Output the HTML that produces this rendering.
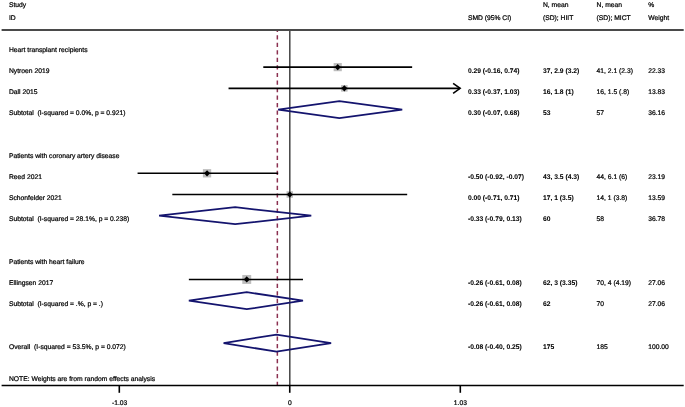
<!DOCTYPE html>
<html><head><meta charset="utf-8"><style>
html,body{margin:0;padding:0;background:#fff;}
svg{display:block;will-change:transform;}
text.b{font-weight:bold;stroke-width:0.05px;}
text{text-rendering:geometricPrecision;white-space:pre;font-family:"Liberation Sans",sans-serif;font-size:6.74px;fill:#000;stroke:#000;stroke-width:0.22px;}
</style></head><body>
<svg width="685" height="407" viewBox="0 0 685 407">
<rect width="685" height="407" fill="#fff"/>
<rect x="333.64" y="63.05" width="8.16" height="8.16" fill="#bdbdbd"/>
<rect x="341.07" y="85.10" width="6.52" height="6.52" fill="#bdbdbd"/>
<rect x="202.90" y="169.13" width="8.30" height="8.30" fill="#bdbdbd"/>
<rect x="286.51" y="191.27" width="6.47" height="6.47" fill="#bdbdbd"/>
<rect x="242.28" y="274.97" width="8.93" height="8.93" fill="#bdbdbd"/>
<line x1="289.80" y1="31" x2="289.80" y2="385.5" stroke="#444" stroke-width="1.5"/>
<line x1="277.35" y1="30" x2="277.35" y2="385.5" stroke="#8b3050" stroke-width="1.5" stroke-dasharray="4.2 3.33" stroke-dashoffset="2.28"/>
<line x1="1.6" y1="30" x2="683.7" y2="30" stroke="#4a4a4a" stroke-width="2"/>
<line x1="1.6" y1="385.5" x2="683.7" y2="385.5" stroke="#000" stroke-width="1.5"/>
<line x1="119.3" y1="385.5" x2="119.3" y2="392.8" stroke="#000" stroke-width="1.6"/>
<line x1="289.75" y1="385.5" x2="289.75" y2="392.8" stroke="#000" stroke-width="1.6"/>
<line x1="460.3" y1="385.5" x2="460.3" y2="392.8" stroke="#000" stroke-width="1.6"/>
<line x1="263.29" y1="67.13" x2="412.15" y2="67.13" stroke="#000" stroke-width="1.6"/>
<polygon points="337.72,64.03 340.72,67.13 337.72,70.23 334.72,67.13" fill="#000"/>
<line x1="228.55" y1="88.36" x2="460.11" y2="88.36" stroke="#000" stroke-width="1.6"/>
<polyline points="453.11,83.36 460.11,88.36 453.11,93.36" fill="none" stroke="#000" stroke-width="1.6"/>
<polygon points="344.33,85.26 347.33,88.36 344.33,91.46 341.33,88.36" fill="#000"/>
<line x1="137.58" y1="173.28" x2="278.17" y2="173.28" stroke="#000" stroke-width="1.6"/>
<polygon points="207.05,170.18 210.05,173.28 207.05,176.38 204.05,173.28" fill="#000"/>
<line x1="172.32" y1="194.51" x2="407.18" y2="194.51" stroke="#000" stroke-width="1.6"/>
<polygon points="289.75,191.41 292.75,194.51 289.75,197.61 286.75,194.51" fill="#000"/>
<line x1="188.86" y1="279.43" x2="302.98" y2="279.43" stroke="#000" stroke-width="1.6"/>
<polygon points="246.75,276.33 249.75,279.43 246.75,282.53 243.75,279.43" fill="#000"/>
<polygon points="278.17,109.59 339.37,101.09 402.22,109.59 339.37,118.09" fill="none" stroke="#14146e" stroke-width="1.75" stroke-linejoin="miter"/>
<polygon points="159.08,215.74 235.17,207.24 311.25,215.74 235.17,224.24" fill="none" stroke="#14146e" stroke-width="1.75" stroke-linejoin="miter"/>
<polygon points="188.86,300.66 246.75,292.16 302.98,300.66 246.75,309.16" fill="none" stroke="#14146e" stroke-width="1.75" stroke-linejoin="miter"/>
<polygon points="223.59,343.12 276.52,334.62 331.10,343.12 276.52,351.62" fill="none" stroke="#14146e" stroke-width="1.75" stroke-linejoin="miter"/>
<g>
<text x="9.00" y="7.30">Study</text>
<text x="9.00" y="20.00">ID</text>
<text x="467.90" y="20.00">SMD (95% CI)</text>
<text x="543.00" y="7.30">N, mean</text>
<text x="543.00" y="20.00">(SD); HIIT</text>
<text x="596.60" y="7.30">N, mean</text>
<text x="596.60" y="20.00">(SD); MICT</text>
<text x="648.20" y="7.30">%</text>
<text x="648.20" y="20.00">Weight</text>
<text x="9.00" y="51.65">Heart transplant recipients</text>
<text x="9.00" y="72.88">Nytroen 2019</text>
<text x="467.90" y="72.88" class="b">0.29 (-0.16, 0.74)</text>
<text x="543.00" y="72.88" class="b">37, 2.9 (3.2)</text>
<text x="596.60" y="72.88">41, 2.1 (2.3)</text>
<text x="648.20" y="72.88">22.33</text>
<text x="9.00" y="94.11">Dall 2015</text>
<text x="467.90" y="94.11" class="b">0.33 (-0.37, 1.03)</text>
<text x="543.00" y="94.11" class="b">16, 1.8 (1)</text>
<text x="596.60" y="94.11">16, 1.5 (.8)</text>
<text x="648.20" y="94.11">13.83</text>
<text x="9.00" y="115.34">Subtotal  (I-squared = 0.0%, p = 0.921)</text>
<text x="467.90" y="115.34" class="b">0.30 (-0.07, 0.68)</text>
<text x="543.00" y="115.34" class="b">53</text>
<text x="596.60" y="115.34">57</text>
<text x="648.20" y="115.34">36.16</text>
<text x="9.00" y="157.80">Patients with coronary artery disease</text>
<text x="9.00" y="179.03">Reed 2021</text>
<text x="467.90" y="179.03" class="b">-0.50 (-0.92, -0.07)</text>
<text x="543.00" y="179.03" class="b">43, 3.5 (4.3)</text>
<text x="596.60" y="179.03">44, 6.1 (6)</text>
<text x="648.20" y="179.03">23.19</text>
<text x="9.00" y="200.26">Schonfelder 2021</text>
<text x="467.90" y="200.26" class="b">0.00 (-0.71, 0.71)</text>
<text x="543.00" y="200.26" class="b">17, 1 (3.5)</text>
<text x="596.60" y="200.26">14, 1 (3.8)</text>
<text x="648.20" y="200.26">13.59</text>
<text x="9.00" y="221.49">Subtotal  (I-squared = 28.1%, p = 0.238)</text>
<text x="467.90" y="221.49" class="b">-0.33 (-0.79, 0.13)</text>
<text x="543.00" y="221.49" class="b">60</text>
<text x="596.60" y="221.49">58</text>
<text x="648.20" y="221.49">36.78</text>
<text x="9.00" y="263.95">Patients with heart failure</text>
<text x="9.00" y="285.18">Ellingsen 2017</text>
<text x="467.90" y="285.18" class="b">-0.26 (-0.61, 0.08)</text>
<text x="543.00" y="285.18" class="b">62, 3 (3.35)</text>
<text x="596.60" y="285.18">70, 4 (4.19)</text>
<text x="648.20" y="285.18">27.06</text>
<text x="9.00" y="306.41">Subtotal  (I-squared = .%, p = .)</text>
<text x="467.90" y="306.41" class="b">-0.26 (-0.61, 0.08)</text>
<text x="543.00" y="306.41" class="b">62</text>
<text x="596.60" y="306.41">70</text>
<text x="648.20" y="306.41">27.06</text>
<text x="9.00" y="348.87">Overall  (I-squared = 53.5%, p = 0.072)</text>
<text x="467.90" y="348.87" class="b">-0.08 (-0.40, 0.25)</text>
<text x="543.00" y="348.87" class="b">175</text>
<text x="596.60" y="348.87">185</text>
<text x="648.20" y="348.87">100.00</text>
<text x="9.00" y="380.70">NOTE: Weights are from random effects analysis</text>
<text x="119.60" y="405.10" text-anchor="middle">-1.03</text>
<text x="289.80" y="405.10" text-anchor="middle">0</text>
<text x="460.40" y="405.10" text-anchor="middle">1.03</text>
</g>
</svg>
</body></html>
